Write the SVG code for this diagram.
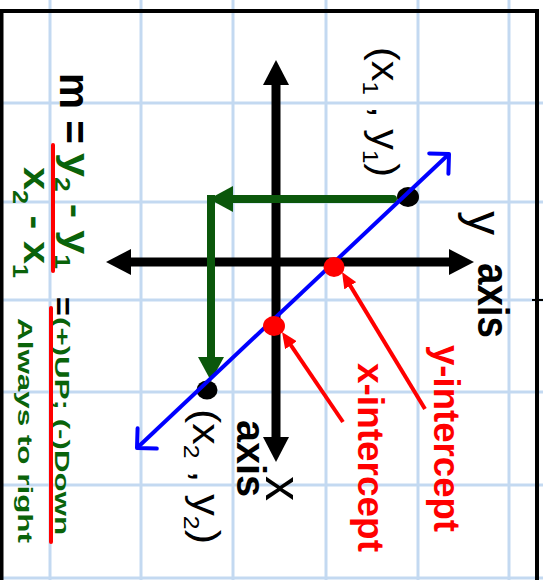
<svg xmlns="http://www.w3.org/2000/svg" width="543" height="580" viewBox="0 0 543 580">
<style>
.grid line{stroke:#c3d9f1;stroke-width:3}
.t{font-family:"Liberation Sans",Arial,sans-serif}
.b{font-weight:bold}
.blk{fill:#000}
.grn{fill:#0a630a}
.red{fill:#ff0000}
</style>
<defs>
<marker id="ah" markerUnits="userSpaceOnUse" markerWidth="26" markerHeight="26" refX="1" refY="13" orient="auto-start-reverse" viewBox="0 0 26 26"><path d="M0,0 L25,13 L0,26 z" fill="#000"/></marker>
<marker id="gh" markerUnits="userSpaceOnUse" markerWidth="26" markerHeight="26" refX="1" refY="13" orient="auto" viewBox="0 0 26 26"><path d="M0,0 L24,13 L0,26 z" fill="#0b570b"/></marker>
<marker id="rh" markerUnits="userSpaceOnUse" markerWidth="16" markerHeight="14" refX="6" refY="7" orient="auto" viewBox="0 0 16 14"><path d="M0,0 L16,7 L0,14 z" fill="#ff0000"/></marker>
<marker id="bh" markerUnits="userSpaceOnUse" markerWidth="20" markerHeight="34" refX="17" refY="17" orient="auto-start-reverse" viewBox="0 0 20 34"><path d="M3,3 L17,17 L3,31" fill="none" stroke="#0000ff" stroke-width="4" stroke-linecap="round" stroke-linejoin="round"/></marker>
</defs>
<rect width="543" height="580" fill="#fff"/>
<g class="grid" id="grid">
<line x1="50" y1="0" x2="50" y2="580"/><line x1="141" y1="0" x2="141" y2="580"/><line x1="233" y1="0" x2="233" y2="580"/><line x1="326" y1="0" x2="326" y2="580"/><line x1="418" y1="0" x2="418" y2="580"/><line x1="509" y1="0" x2="509" y2="580"/>
<line x1="0" y1="103" x2="543" y2="103"/><line x1="0" y1="202" x2="543" y2="202"/><line x1="0" y1="300" x2="543" y2="300"/><line x1="0" y1="392" x2="543" y2="392"/><line x1="0" y1="485" x2="543" y2="485"/><line x1="0" y1="578" x2="543" y2="578"/>
</g>
<g id="frame" stroke="#000" fill="none">
<path d="M1.5,580 V11 H537 V580" stroke-width="4"/>
<line x1="532" y1="300" x2="543" y2="300" stroke-width="2"/>
</g>
<g id="connectors">
<line id="y-axis-line" x1="276" y1="84" x2="276" y2="438" stroke="#000" stroke-width="9" marker-start="url(#ah)" marker-end="url(#ah)"/>
<line id="x-axis-line" x1="130" y1="262" x2="450" y2="262" stroke="#000" stroke-width="9" marker-start="url(#ah)" marker-end="url(#ah)"/>
<line id="rise" x1="393" y1="199" x2="232" y2="199" stroke="#0b570b" stroke-width="8" stroke-linecap="round" marker-end="url(#gh)"/>
<line id="run" x1="211" y1="195" x2="211" y2="358" stroke="#0b570b" stroke-width="8" marker-end="url(#gh)"/>
<line id="yint-arrow" x1="425" y1="409" x2="347.2" y2="280.6" stroke="#ff0000" stroke-width="4" marker-end="url(#rh)"/>
<line id="xint-arrow" x1="343" y1="422" x2="287.6" y2="340.3" stroke="#ff0000" stroke-width="4" marker-end="url(#rh)"/>
</g>
<g id="point1"><ellipse cx="408" cy="197" rx="11" ry="10" fill="#000"/></g>
<g id="point2"><ellipse cx="207" cy="390" rx="10.5" ry="9.5" fill="#000"/></g>
<g id="blue-line"><line x1="137" y1="448" x2="449" y2="154" stroke="#0000ff" stroke-width="4" marker-start="url(#bh)" marker-end="url(#bh)"/></g>
<g id="y-intercept-dot"><ellipse cx="334" cy="267" rx="10.5" ry="10" fill="#ff0000"/></g>
<g id="x-intercept-dot"><ellipse cx="274" cy="326" rx="11" ry="10" fill="#ff0000"/></g>
<g id="formula">
<text class="t b blk" font-size="42" transform="translate(60,73) rotate(90)" textLength="71" lengthAdjust="spacingAndGlyphs">m =</text>
<text class="t b grn" font-size="36" transform="translate(64,153) rotate(90)" textLength="116" lengthAdjust="spacingAndGlyphs">y<tspan font-size="22" dy="9">2</tspan><tspan dy="-9"> - y</tspan><tspan font-size="22" dy="9">1</tspan></text>
<line x1="53" y1="145" x2="53" y2="271" stroke="#ff0000" stroke-width="4" stroke-linecap="round"/>
<text class="t b grn" font-size="36" transform="translate(24,167) rotate(90)" textLength="111" lengthAdjust="spacingAndGlyphs">x<tspan font-size="22" dy="11">2</tspan><tspan dy="-11"> - x</tspan><tspan font-size="22" dy="11">1</tspan></text>
<text class="t b blk" font-size="32" transform="translate(52,297) rotate(90)">=</text>
<text class="t b grn" font-size="21" transform="translate(55,317) rotate(90)" textLength="218" lengthAdjust="spacingAndGlyphs">(+)UP; (-)Down</text>
<line x1="51" y1="308" x2="51" y2="542" stroke="#ff0000" stroke-width="4" stroke-linecap="round"/>
<text class="t b grn" font-size="21" transform="translate(18,318) rotate(90)" textLength="225" lengthAdjust="spacingAndGlyphs">Always to right</text>
</g>
<g id="label-p1"><text class="t blk" font-size="38" transform="translate(372,47) rotate(90)" textLength="130" lengthAdjust="spacingAndGlyphs">(x<tspan font-size="22" dy="9">1</tspan><tspan dy="-9"> , y</tspan><tspan font-size="22" dy="9">1</tspan><tspan dy="-9">)</tspan></text></g>
<g id="label-p2"><text class="t blk" font-size="38" transform="translate(193,409) rotate(90)" textLength="135" lengthAdjust="spacingAndGlyphs">(x<tspan font-size="22" dy="9">2</tspan><tspan dy="-9"> , y</tspan><tspan font-size="22" dy="9">2</tspan><tspan dy="-9">)</tspan></text></g>
<g id="label-yaxis">
<text class="t blk" font-size="48" transform="translate(468,211) rotate(90)">y</text>
<text class="t b blk" font-size="44" transform="translate(478,263) rotate(90)" textLength="75" lengthAdjust="spacingAndGlyphs">axis</text>
</g>
<g id="label-xaxis">
<text class="t blk" font-size="50" transform="translate(266,476) rotate(90)">x</text>
<text class="t b blk" font-size="40" transform="translate(237,420) rotate(90)" textLength="77" lengthAdjust="spacingAndGlyphs">axis</text>
</g>
<g id="label-yint"><text class="t b red" font-size="36" transform="translate(434,345) rotate(90)" textLength="187" lengthAdjust="spacingAndGlyphs">y-intercept</text></g>
<g id="label-xint"><text class="t b red" font-size="36" transform="translate(358,363) rotate(90)" textLength="189" lengthAdjust="spacingAndGlyphs">x-intercept</text></g>
</svg>
